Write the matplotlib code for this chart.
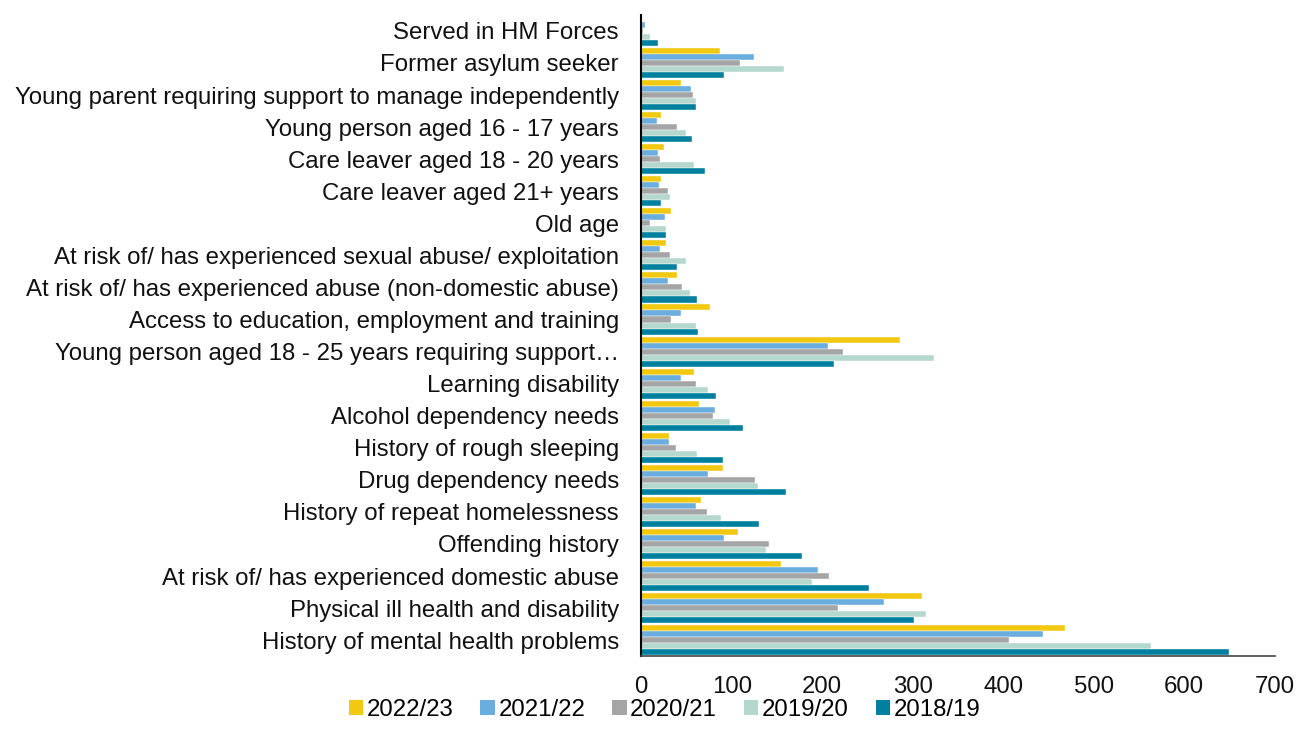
import numpy as np
import matplotlib.pyplot as plt
from matplotlib.patches import Patch

plt.rcParams['font.family'] = ['Liberation Sans', 'DejaVu Sans']

# categories listed top to bottom as shown
categories = [
    "Served in HM Forces",
    "Former asylum seeker",
    "Young parent requiring support to manage independently",
    "Young person aged 16 - 17 years",
    "Care leaver aged 18 - 20 years",
    "Care leaver aged 21+ years",
    "Old age",
    "At risk of/ has experienced sexual abuse/ exploitation",
    "At risk of/ has experienced abuse (non-domestic abuse)",
    "Access to education, employment and training",
    "Young person aged 18 - 25 years requiring support…",
    "Learning disability",
    "Alcohol dependency needs",
    "History of rough sleeping",
    "Drug dependency needs",
    "History of repeat homelessness",
    "Offending history",
    "At risk of/ has experienced domestic abuse",
    "Physical ill health and disability",
    "History of mental health problems",
]

years = ["2022/23", "2021/22", "2020/21", "2019/20", "2018/19"]

v2022 = [1, 87, 44, 22, 25, 22, 33, 27, 40, 76, 286, 58, 64, 31, 90, 66, 107, 154, 310, 468]
v2021 = [4, 125, 55, 17, 19, 20, 26, 21, 30, 44, 206, 44, 81, 31, 74, 61, 91, 195, 268, 444]
v2020 = [2, 109, 57, 40, 21, 30, 10, 32, 45, 33, 223, 60, 79, 38, 126, 73, 141, 208, 218, 406]
v2019 = [10, 158, 60, 50, 58, 32, 27, 50, 54, 61, 324, 74, 98, 62, 129, 88, 138, 189, 315, 563]
v2018 = [18, 92, 60, 56, 70, 22, 27, 40, 62, 63, 213, 83, 112, 90, 160, 130, 178, 252, 301, 650]

series = [v2022, v2021, v2020, v2019, v2018]
colors = ["#F2C811", "#6AAEE0", "#A5A5A5", "#B4D7CE", "#00809E"]

fig = plt.figure(figsize=(12.98, 7.44), dpi=100)
ax = fig.add_axes([0.494, 0.118, 0.488, 0.862])

n = len(categories)
y = np.arange(n)[::-1]  # first category at top
h = 0.188
offsets = np.array([2, 1, 0, -1, -2]) * h

for vals, col, off in zip(series, colors, offsets):
    ax.barh(y + off, vals, height=h, color=col, edgecolor='white', linewidth=0.3)

fs = 17.3
ax.set_yticks(y)
ax.set_yticklabels(categories, fontsize=fs, color='#111111')
ax.set_ylim(-0.5, n - 0.5)
ax.set_xlim(0, 700)
ax.set_xticks(np.arange(0, 701, 100))
ax.tick_params(axis='x', labelsize=fs, length=0, pad=14, colors='#111111')
ax.tick_params(axis='y', length=0, pad=16)

for side in ['top', 'right']:
    ax.spines[side].set_visible(False)
ax.spines['left'].set_color('black')
ax.spines['left'].set_linewidth(1.5)
ax.spines['bottom'].set_color('#444444')
ax.spines['bottom'].set_linewidth(1.2)

handles = [Patch(facecolor=c, label=l) for c, l in zip(colors, years)]
fig.legend(handles=handles, loc='center', bbox_to_anchor=(0.512, 0.046), ncol=5,
           frameon=False, fontsize=fs, handlelength=0.6, handleheight=0.6,
           handletextpad=0.15, columnspacing=1.12)

fig.savefig('out.png', dpi=100)
